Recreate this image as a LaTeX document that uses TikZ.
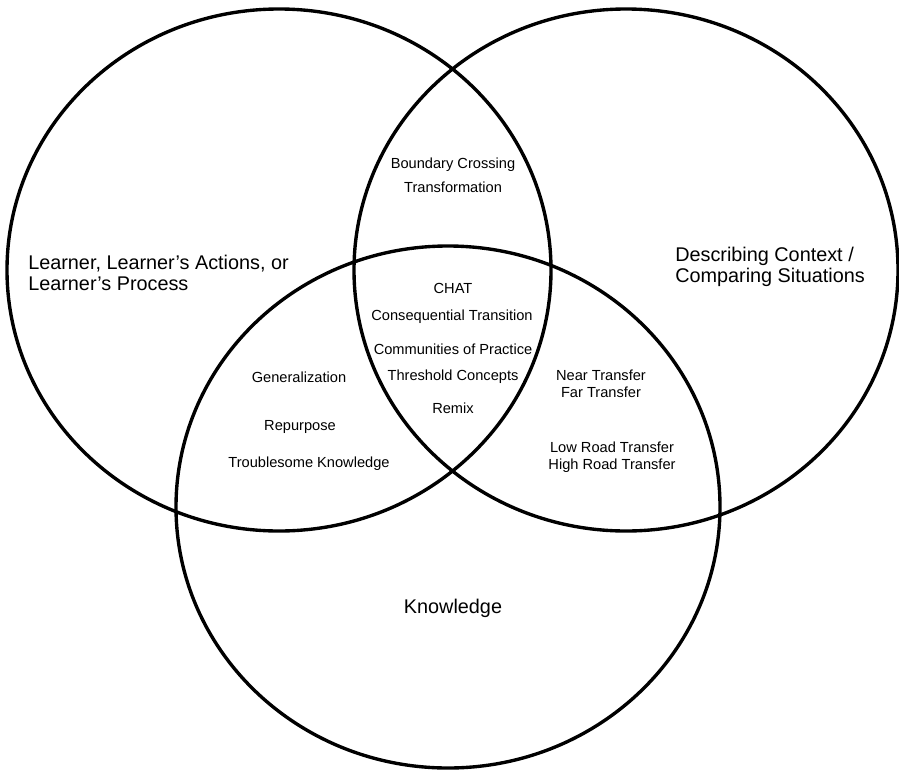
\documentclass[tikz,border=0pt]{standalone}
\usepackage{fontspec}
\setmainfont{Liberation Sans}
\usetikzlibrary{positioning}
\tikzset{
ring/.style={line width=2.4pt},
set label/.style={font=\fontsize{14.1}{14.7}\selectfont, align=left, inner sep=0pt, anchor=west},
item label/.style={font=\fontsize{10.4}{12.1}\selectfont, align=center, inner sep=0pt, anchor=base},
pair label/.style={item label, anchor=north},
}

\begin{document}
\begin{tikzpicture}[x=0.025cm, y=-0.025cm]
		\useasboundingbox (0,0) rectangle (899,769);
		% the three sets
		\draw [style=ring] (279,270) ellipse [x radius=272, y radius=261];
		\draw [style=ring] (626,270) ellipse [x radius=272, y radius=261];
		\draw [style=ring] (448,507) ellipse [x radius=272, y radius=261];
		% set names
		\node [style=set label] (learner) at (28,273) {Learner, Learner’s Actions, or\\Learner’s Process};
		\node [style=set label] (context) at (675,267) {Describing Context /\\Comparing Situations};
		\node [style=set label, anchor=base] (knowledge) at (453,613) {Knowledge};
		% learner and context
		\node [style=item label] (boundary) at (453,168) {Boundary Crossing};
		\node [style=item label] (transform) at (453,192) {Transformation};
		% all three
		\node [style=item label] (chat) at (453,293) {CHAT};
		\node [style=item label] (consequential) at (452,320) {Consequential Transition};
		\node [style=item label] (communities) at (453,354) {Communities of Practice};
		\node [style=item label] (threshold) at (453,380) {Threshold Concepts};
		\node [style=item label] (remix) at (453,413) {Remix};
		% learner and knowledge
		\node [style=item label] (general) at (299,382) {Generalization};
		\node [style=item label] (repurpose) at (300,430) {Repurpose};
		\node [style=item label] (troublesome) at (309,467) {Troublesome Knowledge};
		% context and knowledge
		\node [style=pair label] (nearfar) at (601,370) {Near Transfer\\Far Transfer};
		\node [style=pair label] (lowhigh) at (612,442) {Low Road Transfer\\High Road Transfer};
	\end{tikzpicture}
\end{document}
